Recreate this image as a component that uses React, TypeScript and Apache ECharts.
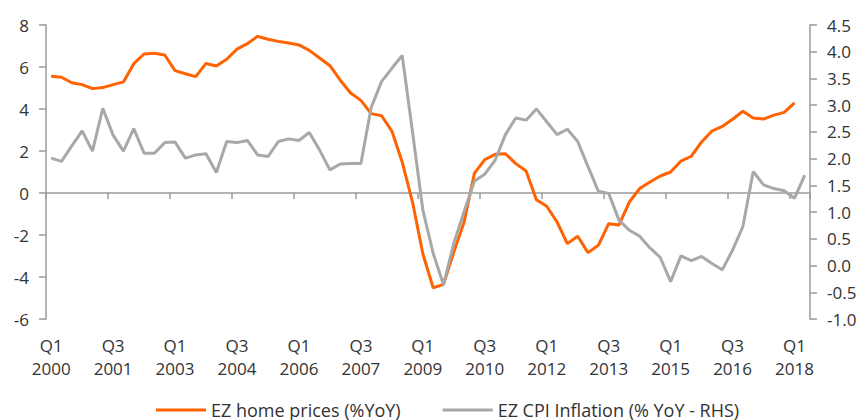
import React, { useEffect, useRef } from "react";
import * as echarts from "echarts";

// Quarter categories: Q1 2000 .. Q2 2018
const startYear = 2000;
const quarterCount = 74;
const categories: string[] = [];
for (let i = 0; i < quarterCount; i++) {
  const y = startYear + Math.floor(i / 4);
  const q = (i % 4) + 1;
  categories.push(`Q${q}\n${y}`);
}

// EZ home prices (%YoY) - left axis
const homePrices: number[] = [
  5.56, 5.51, 5.25, 5.16, 4.97, 5.02, 5.16, 5.29, 6.16, 6.62,
  6.65, 6.57, 5.83, 5.68, 5.54, 6.17, 6.05, 6.37, 6.85, 7.11,
  7.46, 7.32, 7.22, 7.14, 7.05, 6.79, 6.43, 6.06, 5.37, 4.76,
  4.41, 3.78, 3.68, 2.95, 1.48, -0.43, -2.89, -4.51, -4.35, -2.81,
  -1.38, 0.95, 1.59, 1.84, 1.87, 1.40, 1.05, -0.32, -0.63, -1.38,
  -2.41, -2.06, -2.84, -2.49, -1.46, -1.52, -0.43, 0.21, 0.52, 0.81,
  1.00, 1.52, 1.75, 2.43, 2.95, 3.17, 3.51, 3.89, 3.57, 3.52,
  3.71, 3.84, 4.29,
];

// EZ CPI Inflation (% YoY - RHS) - right axis
const cpiInflation: number[] = [
  2.01, 1.95, 2.24, 2.52, 2.14, 2.94, 2.44, 2.14, 2.56, 2.10,
  2.10, 2.30, 2.31, 2.01, 2.07, 2.09, 1.74, 2.32, 2.30, 2.34,
  2.07, 2.04, 2.32, 2.37, 2.34, 2.49, 2.16, 1.79, 1.90, 1.91,
  1.91, 2.96, 3.44, 3.69, 3.93, 2.50, 1.04, 0.23, -0.36, 0.42,
  1.01, 1.58, 1.71, 1.97, 2.45, 2.76, 2.72, 2.93, 2.69, 2.45,
  2.55, 2.32, 1.85, 1.39, 1.35, 0.85, 0.66, 0.55, 0.33, 0.15,
  -0.30, 0.18, 0.09, 0.17, 0.04, -0.08, 0.29, 0.73, 1.76, 1.51,
  1.44, 1.40, 1.26, 1.69,
];

const seriesNames = ["EZ home prices (%YoY)", "EZ CPI Inflation (% YoY - RHS)"];

const FONT = "Open Sans";
const TEXT_COLOR = "#333333";
const AXIS_COLOR = "#9a9a9a";

export default function App() {
  const ref = useRef<HTMLDivElement>(null);

  useEffect(() => {
    if (!ref.current) return;
    const chart = echarts.init(ref.current, undefined, { renderer: "svg" });
    chart.setOption({
      animation: false,
      backgroundColor: "#ffffff",
      textStyle: { fontFamily: FONT },
      grid: { left: 46, right: 52, top: 25, bottom: 101, containLabel: false },
      legend: {
        left: 151,
        top: 395,
        itemWidth: 50,
        itemHeight: 3,
        itemGap: 42,
        icon: "rect",
        textStyle: { fontFamily: FONT, fontSize: 18, color: TEXT_COLOR, lineHeight: 20 },
        data: seriesNames,
      },
      xAxis: [
        {
          type: "category",
          data: categories,
          position: "bottom",
          boundaryGap: true,
          axisLine: { show: false, onZero: false },
          axisTick: { show: false },
          axisLabel: {
            interval: 5,
            margin: 15,
            fontFamily: FONT,
            fontSize: 17,
            lineHeight: 23,
            color: TEXT_COLOR,
          },
          splitLine: { show: false },
        },
        {
          type: "category",
          data: categories,
          position: "bottom",
          boundaryGap: true,
          axisLine: { show: true, onZero: true, onZeroAxisIndex: 0, lineStyle: { color: AXIS_COLOR, width: 1.5 } },
          axisTick: { show: true, interval: 5, alignWithLabel: false, length: 6, lineStyle: { color: AXIS_COLOR, width: 1.5 } },
          axisLabel: { show: false },
          splitLine: { show: false },
        },
      ],
      yAxis: [
        {
          type: "value",
          position: "left",
          min: -6,
          max: 8,
          interval: 2,
          axisLine: { show: true, lineStyle: { color: AXIS_COLOR, width: 1.5 } },
          axisTick: { show: true, length: 7, lineStyle: { color: AXIS_COLOR, width: 1.5 } },
          axisLabel: { margin: 17, fontFamily: FONT, fontSize: 17, color: TEXT_COLOR },
          splitLine: { show: false },
        },
        {
          type: "value",
          position: "right",
          min: -1,
          max: 4.5,
          interval: 0.5,
          axisLine: { show: true, lineStyle: { color: AXIS_COLOR, width: 1.5 } },
          axisTick: { show: true, length: 7, lineStyle: { color: AXIS_COLOR, width: 1.5 } },
          axisLabel: {
            margin: 17,
            fontFamily: FONT,
            fontSize: 17,
            color: TEXT_COLOR,
            formatter: (v: number) => v.toFixed(1),
          },
          splitLine: { show: false },
        },
      ],
      series: [
        {
          name: seriesNames[0],
          type: "line",
          xAxisIndex: 0,
          yAxisIndex: 0,
          data: homePrices,
          symbol: "none",
          color: "#FF6200",
          lineStyle: { color: "#FF6200", width: 3 },
        },
        {
          name: seriesNames[1],
          type: "line",
          xAxisIndex: 0,
          yAxisIndex: 1,
          data: cpiInflation,
          symbol: "none",
          color: "#A8A8A8",
          lineStyle: { color: "#A8A8A8", width: 3 },
        },
      ],
    });
    return () => chart.dispose();
  }, []);

  return (
    <div
      ref={ref}
      style={{ position: "fixed", left: 0, top: 0, width: 862, height: 420 }}
    />
  );
}
